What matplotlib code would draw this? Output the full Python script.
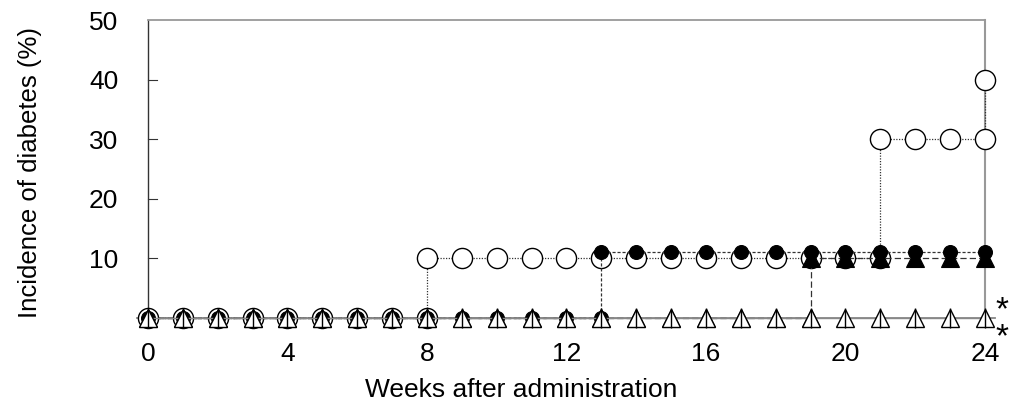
import matplotlib
matplotlib.use("Agg")
import matplotlib.pyplot as plt
import matplotlib.transforms as mtrans

plt.rcParams['font.family'] = ['Liberation Sans', 'DejaVu Sans']

# Data (weeks, incidence %)
oc_weeks = [0, 1, 2, 3, 4, 5, 6, 7, 8, 8, 9, 10, 11, 12, 13, 14, 15, 16, 17, 18, 19, 20, 21, 21, 22, 23, 24, 24]
oc_vals  = [0, 0, 0, 0, 0, 0, 0, 0, 0, 10, 10, 10, 10, 10, 10, 10, 10, 10, 10, 10, 10, 10, 10, 30, 30, 30, 30, 40]

fc_weeks = [0, 1, 2, 3, 4, 5, 6, 7, 8, 9, 10, 11, 12, 13, 13, 14, 15, 16, 17, 18, 19, 20, 21, 22, 23, 24]
fc_vals  = [0, 0, 0, 0, 0, 0, 0, 0, 0, 0, 0, 0, 0, 0, 11.1, 11.1, 11.1, 11.1, 11.1, 11.1, 11.1, 11.1, 11.1, 11.1, 11.1, 11.1]

ft_weeks = [0, 1, 2, 3, 4, 5, 6, 7, 8, 9, 10, 11, 12, 13, 14, 15, 16, 17, 18, 19, 19, 20, 21, 22, 23, 24]
ft_vals  = [0, 0, 0, 0, 0, 0, 0, 0, 0, 0, 0, 0, 0, 0, 0, 0, 0, 0, 0, 0, 10, 10, 10, 10, 10, 10]

ot_weeks = list(range(25))
ot_vals  = [0] * 25

xtick_vals = list(range(25))
xtick_labels = [str(w) if w % 4 == 0 else '' for w in xtick_vals]
ytick_vals = [10, 20, 30, 40, 50]

FS = 19

fig = plt.figure(figsize=(10.1, 4.07), dpi=100)
ax = fig.add_axes([137/1010, 89/407, (995-137)/1010, 298/407])
ax.set_xlim(-0.315, 24.29)
ax.set_ylim(0, 50)

for s in ax.spines.values():
    s.set_visible(False)

# frame lines
ax.plot([0, 0], [0, 50], color='#333333', lw=1.0, clip_on=False, zorder=1)
ax.plot([0, 24], [50, 50], color='#999999', lw=1.3, clip_on=False, zorder=1)
ax.plot([24, 24], [0, 50], color='#999999', lw=1.5, clip_on=False, zorder=1)
ax.axhline(0, color='#888888', lw=1.3, clip_on=False, zorder=1)

ax.plot(oc_weeks, oc_vals, color='#333333', lw=0.9, ls=(0, (1, 1.2)),
        marker='o', ms=14.5, mfc='white', mec='black', mew=1.0, clip_on=False, zorder=3)
ax.plot(fc_weeks, fc_vals, color='#333333', lw=0.9, ls=(0, (2.5, 1.5)),
        marker='o', ms=10, mfc='black', mec='black', mew=0.8, clip_on=False, zorder=4)
ax.plot(ft_weeks, ft_vals, color='#333333', lw=0.9, ls=(0, (5, 2.5)),
        marker='^', ms=12.5, mfc='black', mec='black', mew=0.8, clip_on=False, zorder=5)
ax.plot(ot_weeks, ot_vals, color='#888888', lw=1.0, ls='-',
        marker='^', ms=12.5, mfc='white', mec='black', mew=1.0, clip_on=False, zorder=6)

ax.set_xticks(xtick_vals)
ax.set_xticklabels(xtick_labels, fontsize=FS)
ax.tick_params(axis='x', direction='inout', length=15, width=1.0, color='black', pad=10)
ax.xaxis.set_zorder(7)

ax.set_yticks(ytick_vals)
ax.set_yticklabels([str(v) for v in ytick_vals], fontsize=FS)
ax.tick_params(axis='y', length=0, pad=20)
for v in ytick_vals[:-1]:
    ax.plot([0, 0.25], [v, v], color='#333333', lw=0.8, zorder=1)
offset = mtrans.ScaledTranslation(9/100, 0, fig.dpi_scale_trans)
for lab in ax.get_yticklabels():
    lab.set_transform(lab.get_transform() + offset)

ax.set_xlabel('Weeks after administration', fontsize=FS, labelpad=12)
ax.xaxis.set_label_coords((521-137)/(995-137), -(390-318)/298)
ax.set_ylabel('Incidence of diabetes (%)', fontsize=18.5)
ax.yaxis.set_label_coords(-(137-30)/(995-137), (318-172)/298)
ax.yaxis.label.set_va('center')
ax.xaxis.label.set_va('center')

# significance marks (two asterisks stacked)
fig.text(1002/1010, 1-295/407, '*\n*', fontsize=24, ha='center', va='top',
         linespacing=0.84)

fig.savefig('out.png', dpi=100)
